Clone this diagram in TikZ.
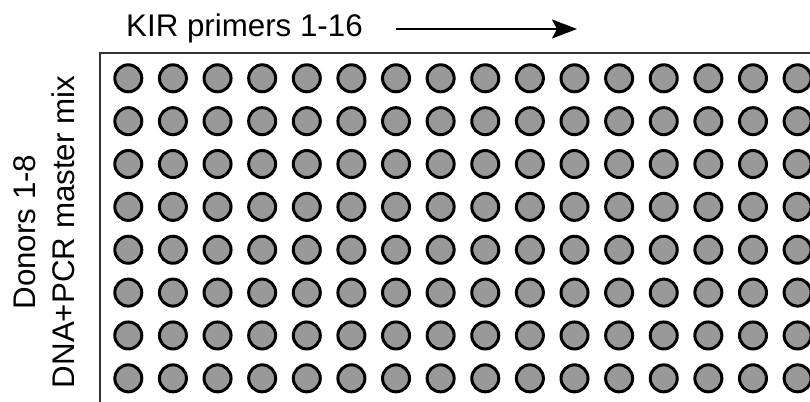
\documentclass[tikz,border=0pt]{standalone}
\usepackage{fontspec}
\setmainfont{Liberation Sans}
\usetikzlibrary{arrows.meta}
\definecolor{wellgray}{HTML}{999999}
\definecolor{platecol}{HTML}{333333}
\tikzset{
  well/.style={circle, draw=black, fill=wellgray, line width=3pt, minimum size=27pt, inner sep=0pt},
  label text/.style={font=\fontsize{31.3}{39}\selectfont, inner sep=0pt},
  plateline/.style={draw=platecol, line width=2pt},
}
\begin{document}
\begin{tikzpicture}[x=1pt,y=-1pt]
\useasboundingbox (0,0) rectangle (810,401);
\clip (0,0) rectangle (810,401);
% plate outline
\draw[plateline] (99.5,410) -- (99.5,53.5) -- (820,53.5);
% wells
\foreach \r in {0,...,7} {
  \foreach \c in {0,...,15} {
    \node[well] (w-\r-\c) at ({128.3+44.62*\c},{78.3+42.86*\r}) {};
  }
}
% title
\node[label text, anchor=base west] (title) at (126,37) {KIR primers 1-16};
\coordinate (arrS) at (396,29);
\coordinate (arrE) at (577,29);
\draw[line width=2pt, -{Stealth[length=25pt,width=19pt,inset=5pt]}] (arrS) -- (arrE);
% side label
\node[label text, rotate=90, align=center] (side) at (44,232) {Donors 1-8\\DNA+PCR master mix};
\end{tikzpicture}
\end{document}
